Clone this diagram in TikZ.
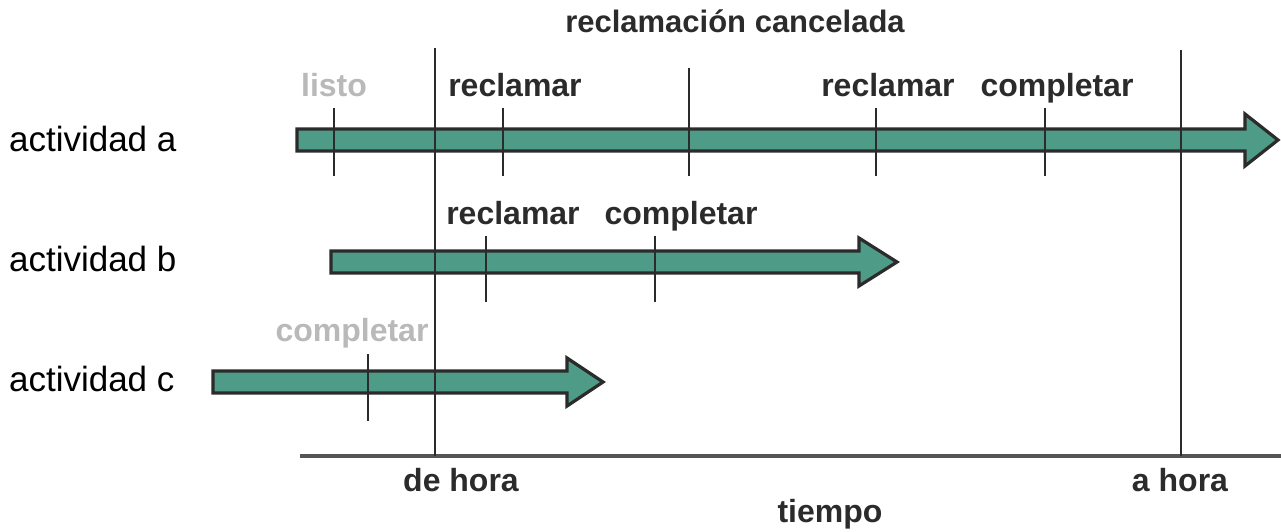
\documentclass[tikz,border=0pt]{standalone}
\usepackage{fontspec}
\setmainfont{Liberation Sans}
\usepackage{xcolor}
\definecolor{cBar}{HTML}{4E9C88}
\definecolor{cLine}{HTML}{2B2B2B}
\definecolor{cFaded}{HTML}{B9B9B9}
\usepackage{tikz}
\usetikzlibrary{positioning,calc}
\tikzset{
  bar-shape/.style={draw=cLine,line width=1.6pt,fill=cBar,line join=miter},
  tick-mark/.style={draw=cLine,line width=1.1pt},
  time-line/.style={draw=cLine,line width=1.1pt},
  axis-line/.style={draw=cLine!80,line width=1.6pt},
  row-label/.style={anchor=base west,font=\fontsize{17.5}{20}\selectfont},
  event-label/.style={anchor=base,font=\fontsize{16}{19}\selectfont\bfseries,text=cLine},
  event-faded/.style={event-label,text=cFaded},
}

\begin{document}
\begin{tikzpicture}[x=0.5pt,y=-0.5pt]
  \useasboundingbox (0,0) rectangle (1281,531);

  % rows
  \node[row-label] (rowa) at (2,151) {actividad a};
  \node[row-label] (rowb) at (2,271) {actividad b};
  \node[row-label] (rowc) at (2,391) {actividad c};

  % time window
  \node[event-label,font=\fontsize{15.5}{18}\selectfont\bfseries] (cancel) at (735,32) {reclamación cancelada};
  \coordinate (from-top) at (435,48);
  \coordinate (from-bot) at (435,456);
  \coordinate (to-top) at (1181,50);
  \coordinate (to-bot) at (1181,456);
  \coordinate (axis-start) at (300,456);
  \coordinate (axis-end) at (1281,456);
  \draw[axis-line] (axis-start) -- (axis-end);
  \node[event-label] (fromlbl) at (461,491) {de hora};
  \node[event-label] (tolbl) at (1180,491) {a hora};
  \node[event-label] (tiempo) at (830,522) {tiempo};

  % activity bars
  \draw[bar-shape] (297,129) -- (1245,129) -- (1245,114) -- (1278,140)
    -- (1245,166) -- (1245,151) -- (297,151) -- cycle;
  \draw[bar-shape] (331,251) -- (859,251) -- (859,238) -- (897,262)
    -- (859,286) -- (859,273) -- (331,273) -- cycle;
  \draw[bar-shape] (213,371) -- (567,371) -- (567,358) -- (603,382)
    -- (567,406) -- (567,393) -- (213,393) -- cycle;

  % window lines over the bars
  \draw[time-line] (from-top) -- (from-bot);
  \draw[time-line] (to-top) -- (to-bot);

  % events on a
  \draw[tick-mark] (334,108) -- (334,176);
  \draw[tick-mark] (503,108) -- (503,176);
  \draw[tick-mark] (689,68) -- (689,176);
  \draw[tick-mark] (876,108) -- (876,176);
  \draw[tick-mark] (1045,108) -- (1045,176);
  \node[event-faded] (a-listo) at (334,96) {listo};
  \node[event-label] (a-recl1) at (515,96) {reclamar};
  \node[event-label] (a-recl2) at (888,96) {reclamar};
  \node[event-label] (a-compl) at (1057,96) {completar};

  % events on b
  \draw[tick-mark] (486,236) -- (486,302);
  \draw[tick-mark] (655,236) -- (655,302);
  \node[event-label] (b-recl) at (513,224) {reclamar};
  \node[event-label] (b-compl) at (681,224) {completar};

  % events on c
  \draw[tick-mark] (368,354) -- (368,421);
  \node[event-faded] (c-compl) at (352,341) {completar};
\end{tikzpicture}
\end{document}
